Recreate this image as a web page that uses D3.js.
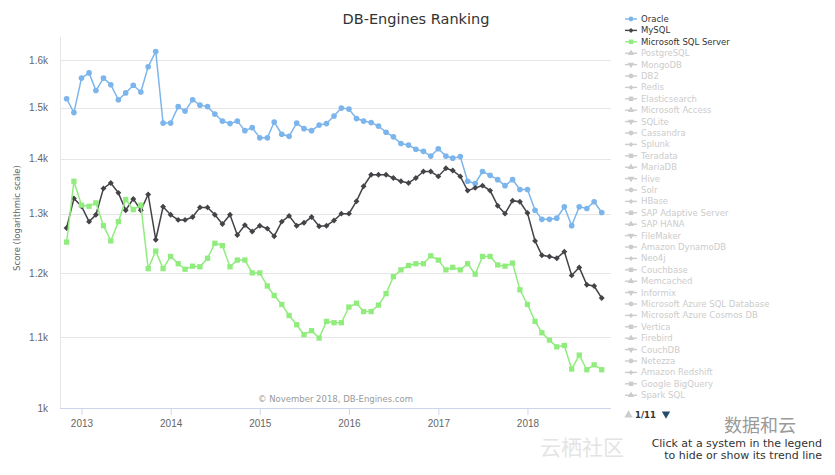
<!DOCTYPE html>
<meta charset="utf-8">
<html>
  <head>
    <title>DB-Engines Ranking</title>
    <style>
      body {
        margin: 0;
        background: #fff;
      }
      svg {
        font-family: "DejaVu Sans", sans-serif;
      }
      .grid line {
        stroke: #e6e6e6;
        shape-rendering: crispEdges;
      }
      .axis text {
        fill: #666;
        font-size: 10px;
      }
      .line {
        fill: none;
        stroke-width: 1.5px;
      }
    </style>
  </head>
  <body>
    <script src="https://d3js.org/d3.v7.min.js"></script>
    <script>

      // monthly scores, Nov 2012 .. Nov 2018
      var months = d3.timeMonth.range(new Date(2012, 10, 1), new Date(2018, 11, 1));

      var oracle = [1518, 1490, 1561, 1572, 1535, 1561, 1547, 1516, 1530, 1546, 1532, 1585, 1618, 1469, 1469, 1502, 1493, 1516,
                    1505, 1502, 1487, 1473, 1468, 1473, 1454, 1460, 1440, 1440, 1471, 1447, 1443, 1469, 1458, 1454, 1465, 1468,
                    1483, 1499, 1497, 1478, 1473, 1470, 1463, 1451, 1442, 1429, 1426, 1418, 1414, 1405, 1419, 1405, 1401, 1404,
                    1358, 1354, 1376, 1369, 1361, 1350, 1361, 1343, 1343, 1306, 1290, 1290, 1292, 1312, 1279, 1312, 1309, 1321, 1302];

      var mysql = [1275, 1327, 1313, 1286, 1298, 1345, 1355, 1337, 1306, 1326, 1306, 1334, 1255, 1312, 1298, 1289, 1289, 1294,
                   1311, 1311, 1298, 1282, 1298, 1263, 1280, 1269, 1279, 1274, 1261, 1286, 1296, 1279, 1284, 1294, 1278, 1279,
                   1288, 1300, 1300, 1322, 1349, 1370, 1370, 1370, 1364, 1358, 1355, 1364, 1376, 1376, 1367, 1382, 1378, 1367,
                   1341, 1346, 1350, 1341, 1314, 1300, 1323, 1321, 1301, 1253, 1229, 1227, 1224, 1235, 1196, 1209, 1181, 1179, 1160];

      var mssql = [1251, 1358, 1315, 1313, 1319, 1279, 1253, 1286, 1325, 1307, 1315, 1207, 1236, 1207, 1227, 1215, 1206, 1211,
                   1210, 1224, 1249, 1245, 1210, 1221, 1221, 1200, 1200, 1179, 1164, 1150, 1133, 1119, 1104, 1110, 1099, 1124,
                   1122, 1122, 1146, 1152, 1139, 1139, 1149, 1167, 1194, 1205, 1212, 1215, 1215, 1228, 1221, 1205, 1209, 1205,
                   1215, 1198, 1227, 1227, 1213, 1211, 1216, 1173, 1150, 1124, 1107, 1096, 1086, 1088, 1054, 1074, 1053, 1060, 1053];

      var yTicks = [1000, 1100, 1200, 1300, 1400, 1500, 1600];
      var yTickLabels = ["1k", "1.1k", "1.2k", "1.3k", "1.4k", "1.5k", "1.6k"];

      var legendNames = ["Oracle", "MySQL", "Microsoft SQL Server", "PostgreSQL", "MongoDB", "DB2", "Redis",
                         "Elasticsearch", "Microsoft Access", "SQLite", "Cassandra", "Splunk", "Teradata", "MariaDB",
                         "Hive", "Solr", "HBase", "SAP Adaptive Server", "SAP HANA", "FileMaker", "Amazon DynamoDB",
                         "Neo4j", "Couchbase", "Memcached", "Informix", "Microsoft Azure SQL Database",
                         "Microsoft Azure Cosmos DB", "Vertica", "Firebird", "CouchDB", "Netezza", "Amazon Redshift",
                         "Google BigQuery", "Spark SQL"];

      var series = [
        {values: oracle, color: "#7cb5ec"},
        {values: mysql, color: "#434348"},
        {values: mssql, color: "#90ed7d"}
      ];

      var margin = {top: 37, left: 60}
        , width = 551
        , height = 371;

      var x = d3.scaleTime()
          .domain([new Date(2012, 9, 5), new Date(2018, 11, 9)])
          .range([0, width]);
      var y = d3.scaleLog().domain([1000, 1650]).range([height, 0]);

      var svg = d3.select("body").append("svg")
          .attr("width", 835)
          .attr("height", 475);

      // symbols: circle, diamond, square, triangle, triangle-down
      function marker(sel, kind, s) {
        var types = [d3.symbolCircle, d3.symbolSquare, d3.symbolSquare, d3.symbolTriangle, d3.symbolTriangle];
        var sizes = [s * 0.9, s * 0.62, s, s * 0.9, s * 0.9];
        var rot = [0, 45, 0, 0, 180];
        return sel.append("path")
          .attr("d", d3.symbol(types[kind % 5], sizes[kind % 5]))
          .attr("rotate", rot[kind % 5]);
      }

      svg.append("text")
          .attr("x", 416)
          .attr("y", 24)
          .attr("text-anchor", "middle")
          .style("font-size", "14.5px")
          .style("fill", "#333")
          .text("DB-Engines Ranking");

      var g = svg.append("g")
          .attr("transform", "translate(" + margin.left + "," + margin.top + ")");

      // grid
      g.append("g")
          .attr("class", "grid")
          .selectAll("line")
          .data(yTicks.slice(1))
          .enter().append("line")
          .attr("x1", 0)
          .attr("x2", width)
          .attr("y1", function(d) { return Math.round(y(d)) + 0.5; })
          .attr("y2", function(d) { return Math.round(y(d)) + 0.5; });

      g.append("line")
          .attr("x1", 0.5).attr("x2", 0.5)
          .attr("y1", 0).attr("y2", height)
          .style("stroke", "#e6e6e6");

      var yAxis = g.append("g")
          .attr("class", "axis")
          .call(d3.axisLeft(y)
            .tickValues(yTicks)
            .tickSize(0)
            .tickPadding(12)
            .tickFormat(function(d, i) { return yTickLabels[i]; }));
      yAxis.select(".domain").remove();

      var xAxis = g.append("g")
          .attr("class", "axis")
          .attr("transform", "translate(0," + height + ")")
          .call(d3.axisBottom(x)
            .ticks(d3.timeYear.every(1))
            .tickSize(7)
            .tickPadding(5)
            .tickFormat(d3.timeFormat("%Y")));
      xAxis.select(".domain").attr("stroke", "#ccd6eb").attr("d", "M0,0.5H" + width);
      xAxis.selectAll(".tick line").attr("stroke", "#ccd6eb");

      svg.append("text")
          .attr("transform", "translate(20,218) rotate(-90)")
          .attr("text-anchor", "middle")
          .style("font-size", "8.5px")
          .style("fill", "#666")
          .text("Score (logarithmic scale)");

      svg.append("text")
          .attr("x", margin.left + width / 2)
          .attr("y", 402)
          .attr("text-anchor", "middle")
          .style("font-size", "8.5px")
          .style("fill", "#999")
          .text("\u00a9 November 2018, DB-Engines.com");

      var valueline = d3.line()
          .x(function(d, i) { return x(months[i]); })
          .y(function(d) { return y(d); });

      series.forEach(function(s, k) {
        g.append("path")
            .datum(s.values)
            .attr("class", "line")
            .style("stroke", s.color)
            .attr("d", valueline);

        s.values.forEach(function(v, i) {
          marker(g, k, 28)
            .attr("transform", function() {
              return "translate(" + x(months[i]) + "," + y(v) + ") rotate(" + d3.select(this).attr("rotate") + ")";
            })
            .style("fill", s.color);
        });
      });

      // legend
      var legend = svg.append("g");
      legendNames.forEach(function(name, i) {
        var ly = 19 + i * 11.4;
        var col = i < 3 ? series[i].color : "#cccccc";
        legend.append("line")
            .attr("x1", 625).attr("x2", 637)
            .attr("y1", ly).attr("y2", ly)
            .style("stroke", col)
            .style("stroke-width", 1.4);
        marker(legend, i, 20)
          .attr("transform", function() {
            return "translate(631," + ly + ") rotate(" + d3.select(this).attr("rotate") + ")";
          })
          .style("fill", col);
        legend.append("text")
            .attr("x", 641)
            .attr("y", ly)
            .attr("dy", "0.35em")
            .style("font-size", "8.5px")
            .style("fill", i < 3 ? "#333" : "#cccccc")
            .text(name);
      });

      legend.append("path")
          .attr("d", d3.symbol(d3.symbolTriangle, 30))
          .attr("transform", "translate(628.5,415)")
          .style("fill", "#cccccc");
      legend.append("text")
          .attr("x", 635)
          .attr("y", 415)
          .attr("dy", "0.35em")
          .style("font-size", "8.5px")
          .style("font-weight", "bold")
          .style("fill", "#333")
          .text("1/11");
      legend.append("path")
          .attr("d", d3.symbol(d3.symbolTriangle, 30))
          .attr("transform", "translate(666,414) rotate(180)")
          .style("fill", "#274b6d");

      // watermarks
      svg.append("text")
          .attr("x", 540)
          .attr("y", 455)
          .style("font-family", "Noto Sans CJK SC")
          .style("font-size", "21px")
          .style("fill", "#e4e4e4")
          .text("云栖社区");

      svg.append("text")
          .attr("x", 724)
          .attr("y", 432)
          .style("font-family", "Noto Sans CJK SC")
          .style("font-size", "18px")
          .style("fill", "#9a9a9a")
          .text("数据和云");

      svg.append("text")
          .attr("x", 822)
          .attr("y", 447)
          .attr("text-anchor", "end")
          .style("font-size", "11px")
          .style("fill", "#333")
          .text("Click at a system in the legend");
      svg.append("text")
          .attr("x", 822)
          .attr("y", 459)
          .attr("text-anchor", "end")
          .style("font-size", "11px")
          .style("fill", "#333")
          .text("to hide or show its trend line");

    </script>
  </body>
</html>
